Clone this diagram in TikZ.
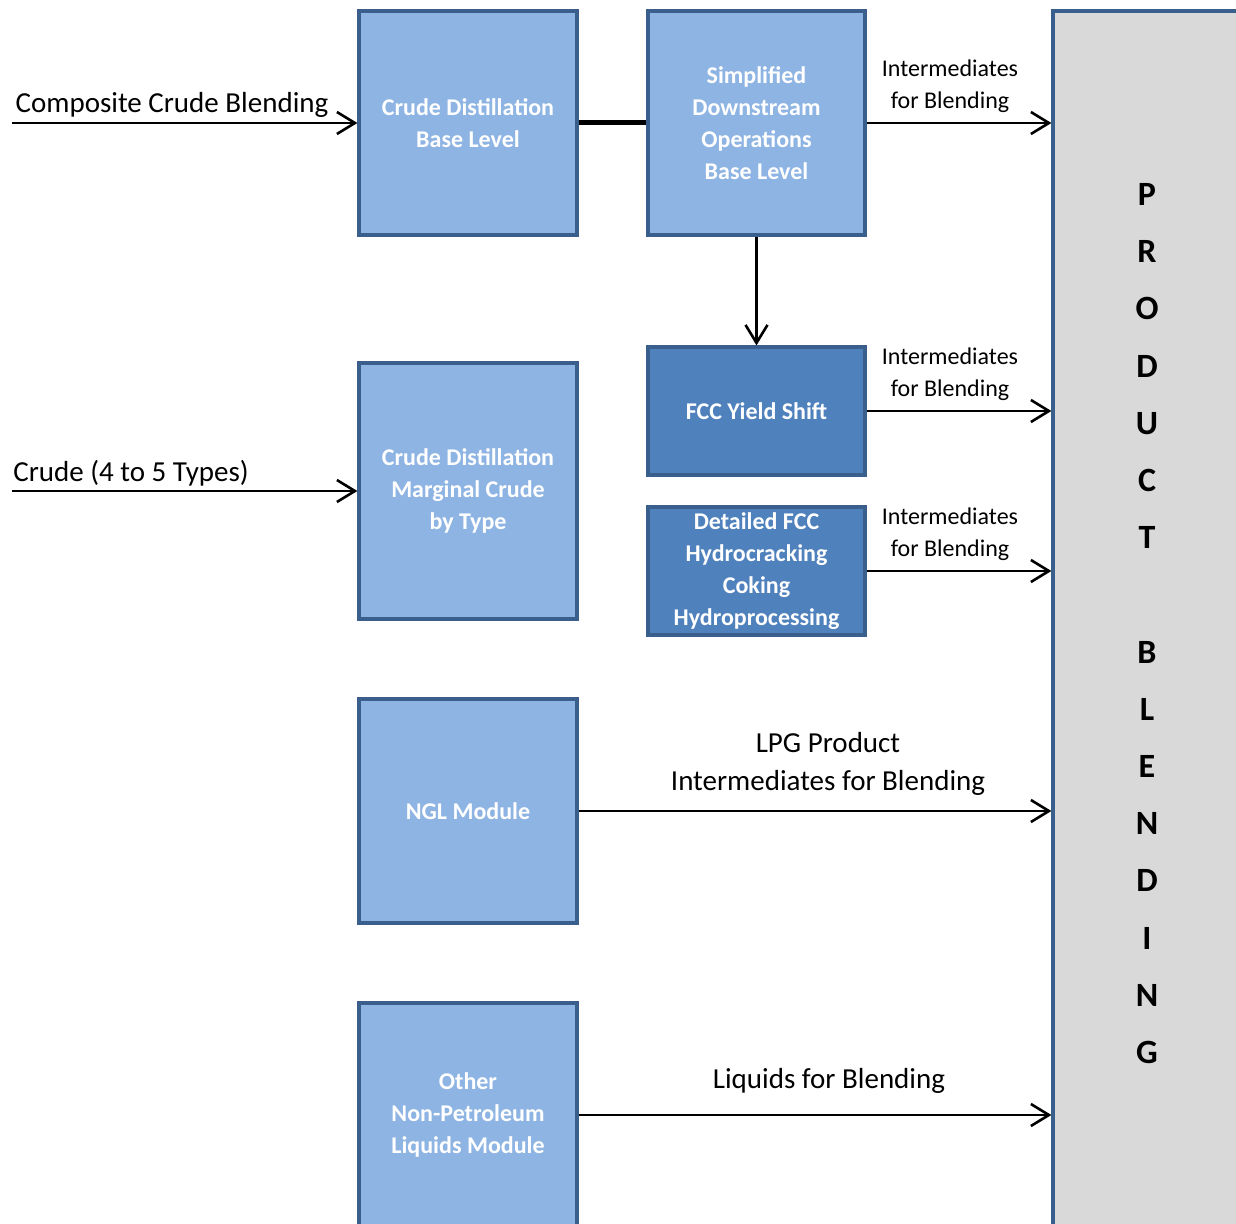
\documentclass[tikz,border=0pt]{standalone}
\usepackage{fontspec}
\setmainfont{Carlito}
\usetikzlibrary{arrows.meta}

\definecolor{boxlight}{HTML}{8EB4E3}
\definecolor{boxdark}{HTML}{4F81BD}
\definecolor{boxline}{HTML}{3B5F8C}
\definecolor{blendgray}{HTML}{D9D9D9}

\tikzset{
  unit/.style={draw=boxline, line width=1.6pt, fill=boxlight, text=white,
    font=\bfseries\fontsize{12}{16}\selectfont, align=center, inner sep=0pt},
  darkunit/.style={unit, fill=boxdark},
  flowlabel/.style={font=\fontsize{12}{16}\selectfont, align=center, inner sep=0pt},
  biglabel/.style={font=\fontsize{14.5}{19}\selectfont, align=center, inner sep=0pt},
}

\begin{document}
\begin{tikzpicture}[x=0.5pt, y=-0.5pt, >={Straight Barb[length=9pt,width=11pt]}, line width=1.3pt]
  \path[use as bounding box, clip] (0,0) rectangle (1236,1224);

  \node[unit, minimum width=109pt, minimum height=112pt] (cdb) at (468,123) {Crude Distillation\\Base Level};
  \node[unit, minimum width=108.5pt, minimum height=112pt] (sdo) at (756.5,123) {Simplified\\Downstream\\Operations\\Base Level};
  \node[darkunit, minimum width=108.5pt, minimum height=64pt] (fcc) at (756.5,411) {FCC Yield Shift};
  \node[darkunit, minimum width=108.5pt, minimum height=64pt] (det) at (756.5,571) {Detailed FCC\\Hydrocracking\\Coking\\Hydroprocessing};
  \node[unit, minimum width=109pt, minimum height=128pt] (cdm) at (468,491) {Crude Distillation\\Marginal Crude\\by Type};
  \node[unit, minimum width=109pt, minimum height=112pt] (ngl) at (468,811) {NGL Module};
  \node[unit, minimum width=109pt, minimum height=112pt] (oth) at (468,1115) {Other\\Non-Petroleum\\Liquids Module};

  \node[draw=boxline, line width=1.6pt, fill=blendgray, minimum width=94pt, minimum height=611.5pt, inner sep=0pt] (blend) at (1147,622.5) {};
  \node[font=\bfseries\fontsize{17}{28.6}\selectfont, align=center, inner sep=0pt] (blendtext) at (1147,623.5)
    {P\\R\\O\\D\\U\\C\\T\\[28.6pt]B\\L\\E\\N\\D\\I\\N\\G};

  \coordinate (in1) at (12,123);
  \coordinate (in2) at (12,491);
  \node[biglabel] (lab1) at (172,105) {Composite Crude Blending};
  \node[biglabel] (lab2) at (131,473) {Crude (4 to 5 Types)};
  \draw[->] (in1) -- (cdb);
  \draw[->] (in2) -- (cdm);

  \draw[line width=2.5pt] (cdb) -- (sdo);
  \draw[->] (sdo) -- (fcc);

  \node[flowlabel] (lab3) at (950,86) {Intermediates\\for Blending};
  \node[flowlabel] (lab4) at (950,374) {Intermediates\\for Blending};
  \node[flowlabel] (lab5) at (950,534) {Intermediates\\for Blending};
  \draw[->] (sdo.east) -- (sdo.east -| blend.west);
  \draw[->] (fcc.east) -- (fcc.east -| blend.west);
  \draw[->] (det.east) -- (det.east -| blend.west);

  \node[biglabel] (lab6) at (828,764) {LPG Product\\Intermediates for Blending};
  \node[biglabel] (lab7) at (829,1081) {Liquids for Blending};
  \draw[->] (ngl.east) -- (ngl.east -| blend.west);
  \draw[->] (oth.east) -- (oth.east -| blend.west);
\end{tikzpicture}
\end{document}
